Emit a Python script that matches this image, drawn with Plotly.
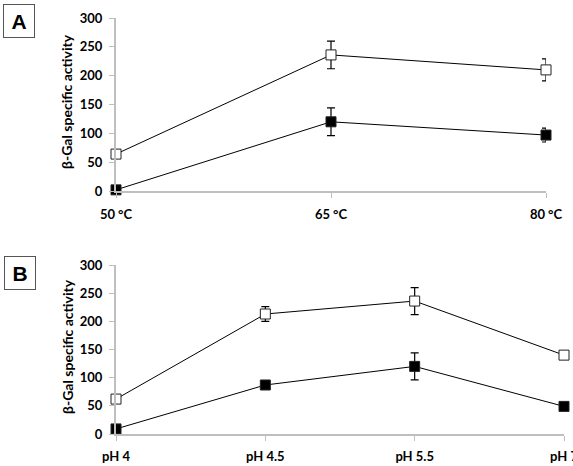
import plotly.graph_objects as go

W, H = 573, 466

# Panel A data
temp_labels = ["50 °C", "65 °C", "80 °C"]
temp_open = [64, 236, 210]
temp_open_err = [0, 24, 19]
temp_filled = [2, 120, 97]
temp_filled_err = [0, 24, 12]

# Panel B data
ph_labels = ["pH 4", "pH 4.5", "pH 5.5", "pH 7"]
ph_open = [62, 213, 236, 140]
ph_open_err = [0, 13, 24, 0]
ph_filled = [9, 87, 120, 49]
ph_filled_err = [0, 0, 24, 0]

y_ticks = [0, 50, 100, 150, 200, 250, 300]
y_title = "β-Gal specific activity"

def px_x(p):
    return p / W

def px_y(p):
    return 1 - p / H

fig = go.Figure()

def add_series(xs, ys, errs, filled, xa, ya):
    fig.add_trace(go.Scatter(
        x=xs, y=ys, xaxis=xa, yaxis=ya, mode="lines+markers",
        line=dict(color="black", width=1),
        marker=dict(symbol="square", size=10,
                    color="black" if filled else "white",
                    line=dict(color="#222222", width=1)),
        error_y=dict(type="data", array=errs, visible=True,
                     color="black", thickness=1.2, width=4),
        cliponaxis=False, showlegend=False,
    ))

add_series(temp_labels, temp_open, temp_open_err, False, "x", "y")
add_series(temp_labels, temp_filled, temp_filled_err, True, "x", "y")
add_series(ph_labels, ph_open, ph_open_err, False, "x2", "y2")
add_series(ph_labels, ph_filled, ph_filled_err, True, "x2", "y2")

font_tick = dict(family="Lato, Open Sans, sans-serif", size=13, color="black", weight="bold")
axis_common = dict(showgrid=False, zeroline=False, showline=True, automargin=False,
                   linecolor="#bfbfbf", linewidth=2, ticks="outside",
                   tickcolor="#bfbfbf", ticklen=5, tickwidth=1, tickfont=font_tick)

fig.update_layout(
    width=W, height=H, margin=dict(l=0, r=0, t=0, b=0, autoexpand=False),
    plot_bgcolor="white", paper_bgcolor="white",
    xaxis=dict(domain=[px_x(116), px_x(546)], anchor="y", type="category",
               range=[0, len(temp_labels) - 1], ticklabelstandoff=5, **axis_common),
    yaxis=dict(domain=[px_y(191), px_y(18)], anchor="x", range=[0, 300],
               tickvals=y_ticks, ticklabelstandoff=4, **axis_common),
    xaxis2=dict(domain=[px_x(116), px_x(564)], anchor="y2", type="category",
                range=[0, len(ph_labels) - 1], ticklabelstandoff=4, **axis_common),
    yaxis2=dict(domain=[px_y(434), px_y(265)], anchor="x2", range=[0, 300],
                tickvals=y_ticks, ticklabelstandoff=4, **axis_common),
)

title_font = dict(family="Lato, Open Sans, sans-serif", size=14, color="black", weight="bold")
for cy in (102, 347):
    fig.add_annotation(xref="paper", yref="paper", x=px_x(67), y=px_y(cy),
                       text=y_title, textangle=-90, showarrow=False,
                       font=title_font, xanchor="center", yanchor="middle")

box_font = dict(family="Liberation Sans, Arial, sans-serif", size=21, color="black", weight="bold")
for lab, cx, cy in (("A", 19, 21), ("B", 19.5, 273)):
    fig.add_annotation(xref="paper", yref="paper", x=px_x(cx), y=px_y(cy),
                       text=lab, showarrow=False, font=box_font,
                       width=28, height=30, borderpad=1,
                       bordercolor="#555555", borderwidth=1, bgcolor="white",
                       xanchor="center", yanchor="middle")

fig.write_html("out.html", config={"displayModeBar": False},
               post_script="document.body.style.margin='0';document.body.style.overflow='hidden';")
